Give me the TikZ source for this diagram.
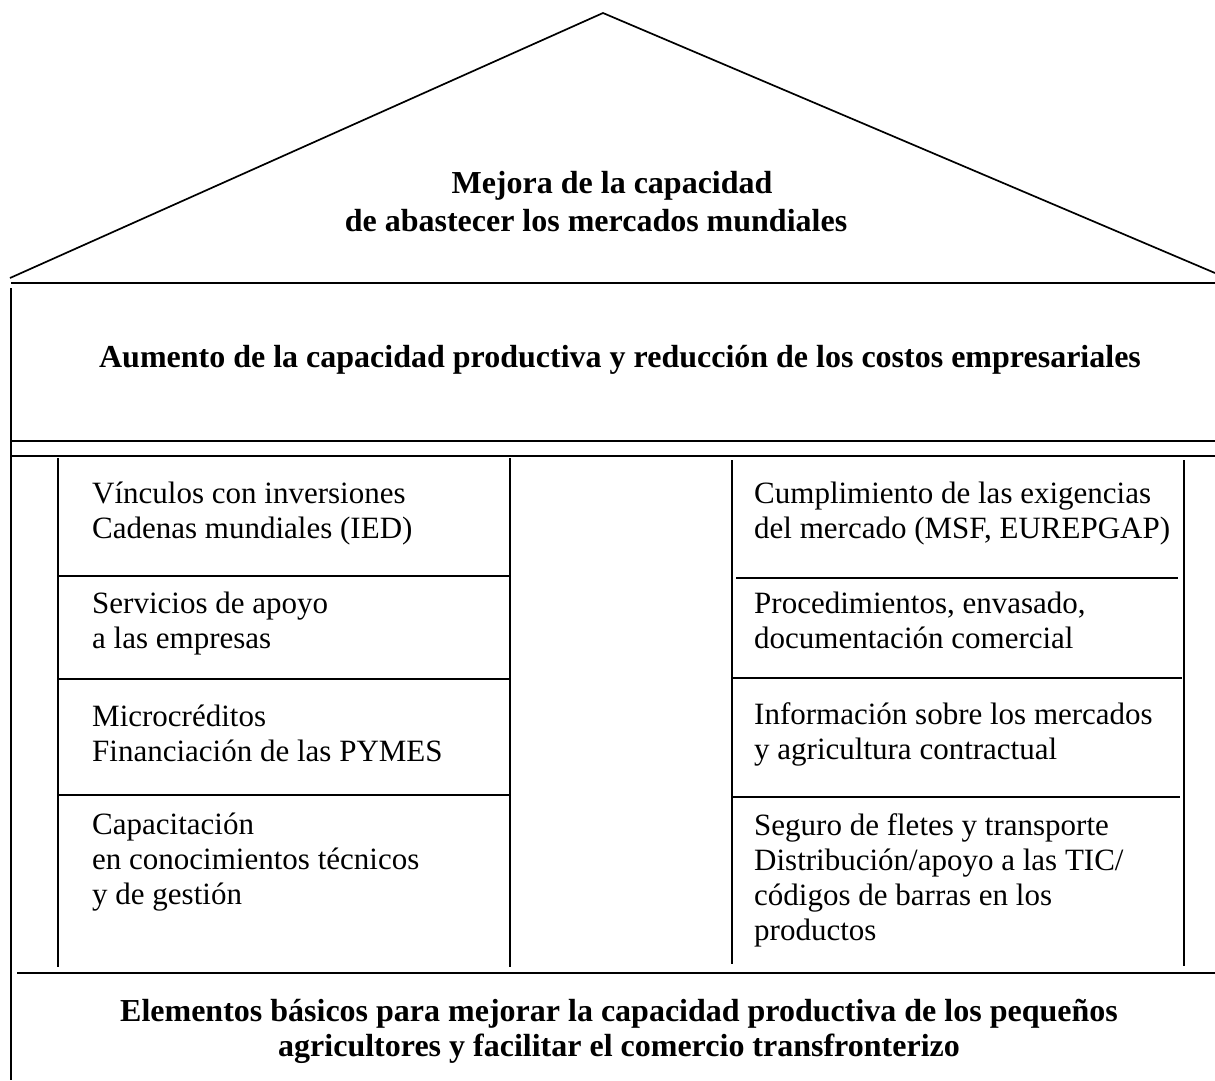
\documentclass[tikz,border=0pt]{standalone}
\usepackage{fontspec}
\setmainfont{Liberation Serif}
\begin{document}
\begin{tikzpicture}[x=1pt,y=-1pt,
  ln/.style={line width=2pt},
  thin/.style={line width=1.7pt},
  boxtxt/.style={anchor=base west,inner sep=0pt,align=left,font=\fontsize{31}{35}\selectfont},
  headtxt/.style={anchor=base,inner sep=0pt,align=center,font=\fontsize{32}{38}\selectfont\bfseries}]
\useasboundingbox (0,0) rectangle (1215,1080);
% roof
\coordinate (rl) at (10,278);
\coordinate (ra) at (603,13);
\coordinate (rr) at (1215,273);
\draw[thin] (rl) -- (ra) -- (rr);
% frame lines
\coordinate (h1l) at (11,283); \coordinate (h1r) at (1215,283);
\coordinate (h2l) at (11,441); \coordinate (h2r) at (1215,441);
\coordinate (h3l) at (11,456); \coordinate (h3r) at (1215,456);
\coordinate (h4l) at (17,973); \coordinate (h4r) at (1215,973);
\coordinate (vlt) at (11,288); \coordinate (vlb) at (11,1080);
\draw[ln] (h1l) -- (h1r);
\draw[thin] (h2l) -- (h2r);
\draw[thin] (h3l) -- (h3r);
\draw[ln] (h4l) -- (h4r);
\draw[thin] (vlt) -- (vlb);
% left column
\coordinate (la) at (58,458); \coordinate (lb) at (58,967);
\coordinate (lc) at (510,458); \coordinate (ld) at (510,967);
\draw[thin] (la) -- (lb);
\draw[thin] (lc) -- (ld);
\coordinate (l1a) at (58,576); \coordinate (l1b) at (511,576);
\coordinate (l2a) at (58,679); \coordinate (l2b) at (511,679);
\coordinate (l3a) at (58,795); \coordinate (l3b) at (511,795);
\draw[thin] (l1a) -- (l1b);
\draw[thin] (l2a) -- (l2b);
\draw[thin] (l3a) -- (l3b);
% right column
\coordinate (ra1) at (732,460); \coordinate (rb1) at (732,964);
\coordinate (rc1) at (1184,460); \coordinate (rd1) at (1184,966);
\draw[thin] (ra1) -- (rb1);
\draw[thin] (rc1) -- (rd1);
\coordinate (r1a) at (736,578); \coordinate (r1b) at (1178,578);
\coordinate (r2a) at (732,678); \coordinate (r2b) at (1182,678);
\coordinate (r3a) at (732,797); \coordinate (r3b) at (1180,797);
\draw[thin] (r1a) -- (r1b);
\draw[thin] (r2a) -- (r2b);
\draw[thin] (r3a) -- (r3b);
% texts (base anchor = baseline of the last line)
\node[headtxt] (roof) at (596,231) {\hspace*{1em}Mejora de la capacidad\\de abastecer los mercados mundiales};
\node[headtxt] (mid) at (620,367) {Aumento de la capacidad productiva y reducción de los costos empresariales};
\node[headtxt,font=\fontsize{32}{35}\selectfont\bfseries] (base) at (619,1056) {Elementos básicos para mejorar la capacidad productiva de los pequeños\\agricultores y facilitar el comercio transfronterizo};
\node[boxtxt] (L1) at (92,538) {Vínculos con inversiones\\Cadenas mundiales (IED)};
\node[boxtxt] (L2) at (92,648) {Servicios de apoyo\\a las empresas};
\node[boxtxt] (L3) at (92,761) {Microcréditos\\Financiación de las PYMES};
\node[boxtxt] (L4) at (92,904) {Capacitación\\en conocimientos técnicos\\y de gestión};
\node[boxtxt] (R1) at (754,538) {Cumplimiento de las exigencias\\del mercado (MSF, EUREPGAP)};
\node[boxtxt] (R2) at (754,648) {Procedimientos, envasado,\\documentación comercial};
\node[boxtxt] (R3) at (754,759) {Información sobre los mercados\\y agricultura contractual};
\node[boxtxt] (R4) at (754,940) {Seguro de fletes y transporte\\Distribución/apoyo a las TIC/\\códigos de barras en los\\productos};
\end{tikzpicture}
\end{document}
